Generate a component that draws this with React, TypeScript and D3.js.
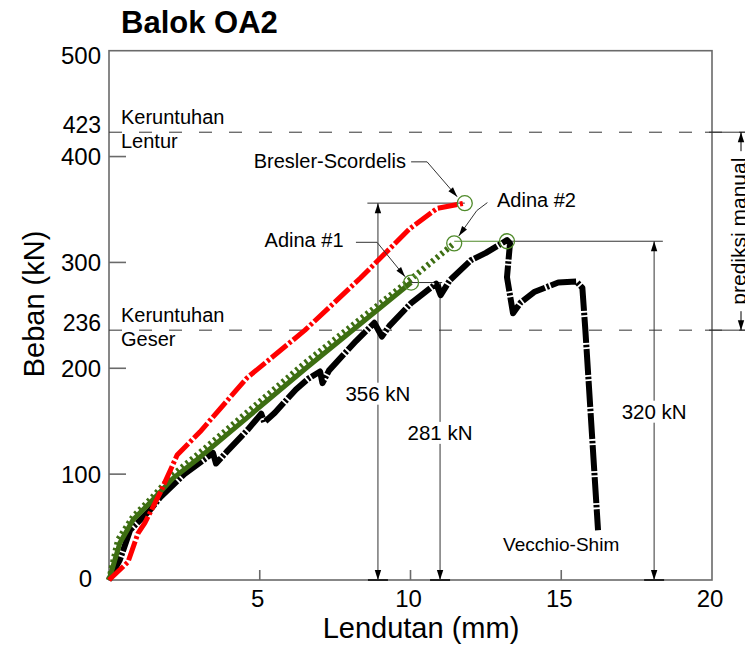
import React from "react";
import * as d3 from "d3";

// ---------- data ----------
const xTicks = [5, 10, 15, 20];
const yTicks = [0, 100, 200, 300, 400, 500];
const limitValues = [423, 236];
const limitLabels = [
  ["Keruntuhan", "Lentur"],
  ["Keruntuhan", "Geser"],
];

const breslerX = [0, 0.63, 0.96, 1.19, 1.69, 2.26, 3.02, 4.58, 6.5, 8.33, 9.98, 10.88, 11.8];
const breslerY = [0, 17, 44, 54, 82, 118, 140, 191, 236, 285, 332, 351, 356];

const adina1X = [0, 0.36, 0.8, 1.36, 2.12, 3.02, 6.57, 10.02];
const adina1Y = [0, 35, 57, 73, 96, 116, 201, 281];

const adina2X = [0, 0.3, 0.8, 1.4, 2.1, 3.0, 6.5, 10.0, 11.45];
const adina2Y = [0, 38, 60, 77, 99, 120, 205, 284, 318];

const vecchioX = [0, 0.36, 0.7, 1.36, 1.7, 2.5, 3.45, 3.55, 3.9, 4.6, 5.05, 5.15, 5.5, 6.2, 6.6, 7.0, 7.08, 7.3, 8.2, 8.8, 9.05, 9.3, 10.0, 10.85, 11.0, 11.3, 12.0, 12.5, 13.2, 13.3, 13.2, 13.4, 13.65, 14.1, 14.9, 15.5, 15.7, 15.8, 16.22];
const vecchioY = [0, 19, 47, 66, 78, 100, 120, 110, 121, 142, 157, 149, 158, 180, 190, 197, 186, 198, 226, 243, 230, 240, 261, 280, 269, 283, 302, 309, 321, 318, 286, 252, 262, 272, 281, 282, 276, 236, 47];

const peakLabels = ["356 kN", "281 kN", "320 kN"];
const peakValues = [356, 281, 320];
const dimLineX = [8.92, 10.98, 18.08];
const dimLabelY = [176, 139, 159];

const zip = (xs: number[], ys: number[]): [number, number][] => xs.map((v, i) => [v, ys[i]]);

const FONT = "Liberation Sans, Arial, Helvetica, sans-serif";

function arrowHead(x1: number, y1: number, x2: number, y2: number, len = 10, w = 3.2) {
  const a = Math.atan2(y2 - y1, x2 - x1);
  const bx = x2 - len * Math.cos(a);
  const by = y2 - len * Math.sin(a);
  const s = Math.sin(a), c = Math.cos(a);
  return `${x2},${y2} ${bx + w * s},${by - w * c} ${bx - w * s},${by + w * c}`;
}

export default function App() {
  const W = 745, H = 648;
  const x = d3.scaleLinear().domain([0, 20]).range([109, 712]);
  const y = d3.scaleLinear().domain([0, 500]).range([580, 50.7]);
  const line = d3.line<[number, number]>().x(d => x(d[0])).y(d => y(d[1]));

  const bres = zip(breslerX, breslerY);
  const ad1 = zip(adina1X, adina1Y);
  const ad2 = zip(adina2X, adina2Y);
  const vec = zip(vecchioX, vecchioY);

  const axisColor = "#6a6a6a";
  const dimColor = "#333";
  const green = "#3d6e12";
  const circleGreen = "#4f8a2a";

  // leader annotations (data coordinates)
  const leaders: { pts: [number, number][]; label: string; lx: number; ly: number; anchor: string }[] = [
    { pts: [[10.02, 395], [10.55, 395], [11.55, 362]], label: "Bresler-Scordelis", lx: 9.85, ly: 389, anchor: "end" },
    { pts: [[12.55, 356.5], [12.2, 349], [11.6, 325]], label: "Adina #2", lx: 12.87, ly: 352, anchor: "start" },
    { pts: [[8.19, 319], [8.89, 319], [9.82, 286.5]], label: "Adina #1", lx: 7.78, ly: 315, anchor: "end" },
  ];

  const circles: [number, number][] = [
    [breslerX[breslerX.length - 1], breslerY[breslerY.length - 1]],
    [adina1X[adina1X.length - 1], adina1Y[adina1Y.length - 1]],
    [adina2X[adina2X.length - 1], adina2Y[adina2Y.length - 1]],
    [13.2, 320],
  ];

  const hExtFrom = [8.57, 10.02, 13.2];
  const hExtTo = [11.8, 11.05, 18.37];

  return (
    <svg width={W} height={H} style={{ position: "absolute", left: 0, top: 0, background: "#fff" }} fontFamily={FONT}>
      <rect x={0} y={0} width={W} height={H} fill="#fff" />
      {/* title */}
      <text x={121} y={33} fontSize={31} fontWeight="bold" fill="#000">Balok OA2</text>

      {/* frame */}
      <rect x={x(0)} y={y(500)} width={x(20) - x(0)} height={y(0) - y(500)} fill="none" stroke={axisColor} strokeWidth={1.6} />

      {/* y ticks */}
      {yTicks.filter(v => v > 0 && v < 500).map(v => (
        <line key={"yt" + v} x1={x(0)} x2={x(0) + 17} y1={y(v)} y2={y(v)} stroke={axisColor} strokeWidth={1.6} />
      ))}
      {/* x ticks */}
      {xTicks.filter(v => v < 20).map(v => (
        <line key={"xt" + v} x1={x(v)} x2={x(v)} y1={y(0)} y2={y(0) - 10} stroke={axisColor} strokeWidth={1.6} />
      ))}

      {/* y tick labels */}
      {yTicks.map(v => (
        <text key={"yl" + v} x={v === 0 ? 92 : 101} y={v === 0 ? y(0) + 7 : Math.max(y(v) + 8.5, y(500) + 13.5)}
          fontSize={24} textAnchor="end" fill="#000">{v}</text>
      ))}
      {limitValues.map(v => (
        <text key={"ll" + v} x={101} y={y(v) + 1} fontSize={23} textAnchor="end" fill="#000">{v}</text>
      ))}
      {/* x tick labels */}
      {xTicks.map(v => (
        <text key={"xl" + v} x={x(v) - 2} y={607} fontSize={24} textAnchor="middle" fill="#000">{v}</text>
      ))}

      {/* axis titles */}
      <text x={421} y={638} fontSize={29} textAnchor="middle" fill="#000">Lendutan (mm)</text>
      <text transform={`translate(44,304) rotate(-90)`} fontSize={29} textAnchor="middle" fill="#000">Beban (kN)</text>

      {/* limit dashed lines */}
      {limitValues.map(v => (
        <g key={"lim" + v}>
          <line x1={x(0)} x2={W} y1={y(v)} y2={y(v)} stroke={dimColor} strokeWidth={1} strokeDasharray="13,17" />
          <line x1={705} x2={W} y1={y(v)} y2={y(v)} stroke={dimColor} strokeWidth={1} />
        </g>
      ))}
      {limitLabels.map((lab, i) => (
        <g key={"limlab" + i}>
          <text x={121} y={y(limitValues[i]) - 8} fontSize={20} fill="#000">{lab[0]}</text>
          <text x={121} y={y(limitValues[i]) + 16} fontSize={20} fill="#000">{lab[1]}</text>
        </g>
      ))}

      {/* prediksi manual dimension */}
      <line x1={741} x2={741} y1={y(423)} y2={y(236)} stroke="#000" strokeWidth={1} />
      <polygon points={arrowHead(741, y(423) + 20, 741, y(423))} fill="#000" />
      <polygon points={arrowHead(741, y(236) - 20, 741, y(236))} fill="#000" />
      <rect x={729} y={(y(423) + y(236)) / 2 - 80} width={16} height={160} fill="#fff" />
      <text transform={`translate(746,${(y(423) + y(236)) / 2}) rotate(-90)`} fontSize={21} textAnchor="middle" fill="#000">prediksi manual</text>

      {/* peak dimension lines */}
      {peakValues.map((v, i) => (
        <g key={"dim" + i}>
          <line x1={x(hExtFrom[i])} x2={x(hExtTo[i])} y1={y(v)} y2={y(v)} stroke={dimColor} strokeWidth={1} />
          <line x1={x(dimLineX[i])} x2={x(dimLineX[i])} y1={y(v)} y2={y(0)} stroke={dimColor} strokeWidth={1} />
          <polygon points={arrowHead(x(dimLineX[i]), y(v) + 20, x(dimLineX[i]), y(v))} fill="#000" />
          <polygon points={arrowHead(x(dimLineX[i]), y(0) - 20, x(dimLineX[i]), y(0))} fill="#000" />
          <line x1={x(dimLineX[i]) - 10} x2={x(dimLineX[i]) + 10} y1={y(0)} y2={y(0)} stroke="#222" strokeWidth={2} />
          <rect x={x(dimLineX[i]) - 36} y={y(dimLabelY[i]) - 11} width={72} height={22} fill="#fff" />
          <text x={x(dimLineX[i])} y={y(dimLabelY[i]) + 7.5} fontSize={20.5} textAnchor="middle" fill="#000">{peakLabels[i]}</text>
        </g>
      ))}
      {/* green connector from Adina #2 end to Vecchio peak */}
      <line x1={x(adina2X[adina2X.length - 1])} x2={x(13.2)} y1={y(320)} y2={y(320)} stroke={circleGreen} strokeWidth={1.2} />

      {/* curves */}
      <path d={line(vec) || ""} fill="none" stroke="#000" strokeWidth={6} strokeLinejoin="round" strokeDasharray="26,1.8,2.5,1.8" />
      <path d={line(ad1) || ""} fill="none" stroke={green} strokeWidth={5} strokeLinejoin="round" />
      <path d={line(ad2) || ""} fill="none" stroke={green} strokeWidth={6} strokeDasharray="2.6,3.4" />
      <path d={line(bres) || ""} fill="none" stroke="#ff0000" strokeWidth={5} strokeLinejoin="round" strokeDasharray="20,2.5,3,2.5" />

      {/* circles */}
      {circles.map((c, i) => (
        <circle key={"c" + i} cx={x(c[0])} cy={y(c[1])} r={7.5} fill="none" stroke={circleGreen} strokeWidth={1.3} />
      ))}

      {/* leaders */}
      {leaders.map((l, i) => {
        const p = l.pts.map(d => [x(d[0]), y(d[1])]);
        const n = p.length;
        return (
          <g key={"ld" + i}>
            <polyline points={p.map(d => d.join(",")).join(" ")} fill="none" stroke={dimColor} strokeWidth={1} />
            <polygon points={arrowHead(p[n - 2][0], p[n - 2][1], p[n - 1][0], p[n - 1][1], 10, 3)} fill="#000" />
            <text x={x(l.lx)} y={y(l.ly)} fontSize={20} textAnchor={l.anchor as any} fill="#000">{l.label}</text>
          </g>
        );
      })}

      <text x={x(13.07)} y={y(27.5)} fontSize={19} fill="#000">Vecchio-Shim</text>
    </svg>
  );
}
